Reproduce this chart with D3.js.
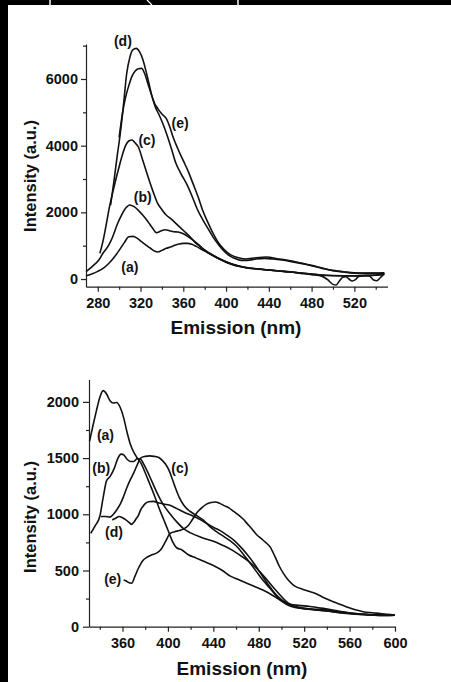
<!DOCTYPE html>
<html>
<head>
<meta charset="utf-8">
<script src="https://cdn.jsdelivr.net/npm/d3@7/dist/d3.min.js"></script>
<style>
  body { margin: 0; background: #fff; }
  svg { display: block; }
  text { font-family: "Liberation Sans", Arial, sans-serif; font-weight: bold; fill: #111; }
  .axis path, .axis line { stroke: #222; stroke-width: 1.2; }
  .axis text { font-size: 14.5px; fill: #111; }
  .curve { fill: none; stroke: #111; stroke-width: 1.6; }
</style>
</head>
<body>
<svg id="chart" width="451" height="682"></svg>
<script>
// ---- top panel data: [nm, intensity]
var topA = [[269,100],[275,160],[280,230],[285,320],[290,460],[295,640],[300,860],[305,1100],[309,1270],[313,1280],[317,1220],[321,1120],[325,1020],[329,930],[333,840],[336,810],[340,860],[344,920],[348,960],[352,1010],[356,1050],[360,1070],[364,1070],[368,1040],[372,980],[376,910],[380,840],[384,770],[388,710],[392,640],[396,580],[400,520],[405,460],[410,410],[415,370],[420,330],[430,300],[440,270],[450,240],[460,210],[470,170],[480,130],[490,80],[495,-20],[500,-160],[503,-180],[506,-60],[509,50],[512,70],[515,0],[518,-60],[521,-20],[524,80],[530,100],[534,90],[538,-30],[541,-50],[544,30],[548,170]];
var topB = [[269,220],[275,380],[281,570],[285,780],[290,1000],[294,1270],[298,1620],[302,1900],[306,2120],[310,2220],[314,2170],[318,2060],[322,1920],[327,1720],[331,1540],[335,1390],[339,1440],[343,1480],[347,1450],[351,1420],[355,1410],[359,1370],[364,1280],[369,1170],[374,1040],[378,920],[384,790],[390,670],[396,560],[402,470],[408,410],[414,370],[420,340],[430,300],[440,270],[450,240],[460,210],[470,180],[480,150],[490,120],[500,105],[510,100],[520,100],[530,110],[540,120],[548,150]];
var topC = [[282,770],[285,1150],[288,1650],[291,2170],[294,2600],[297,3000],[300,3370],[303,3720],[306,4000],[309,4140],[312,4170],[315,4080],[318,3960],[322,3570],[325,3270],[328,2970],[332,2600],[336,2270],[340,2080],[344,1920],[348,1820],[353,1670],[358,1520],[363,1370],[368,1210],[372,1070],[378,920],[384,770],[390,660],[396,570],[400,520],[410,400],[420,340],[430,300],[440,270],[450,240],[460,215],[470,180],[480,150],[490,115],[500,100],[510,95],[520,90],[530,100],[540,115],[548,140]];
var topD = [[292,2220],[295,2900],[298,3650],[301,4350],[304,5200],[307,6150],[310,6650],[313,6880],[316,6920],[319,6820],[322,6600],[325,6250],[328,5850],[331,5450],[334,5150],[337,4950],[341,4650],[345,4300],[349,3900],[353,3480],[358,3150],[363,2860],[368,2500],[373,2100],[378,1790],[383,1520],[388,1250],[393,1030],[398,840],[403,700],[408,620],[414,560],[420,560],[428,600],[436,620],[444,600],[452,570],[460,530],[470,470],[480,400],[490,320],[500,250],[510,210],[520,175],[530,170],[540,170],[548,180]];
var topE = [[300,4250],[303,4950],[306,5450],[309,5800],[312,6080],[315,6240],[318,6310],[321,6320],[324,6150],[327,5850],[330,5550],[333,5280],[336,5120],[340,4950],[344,4820],[347,4600],[350,4300],[355,3900],[360,3550],[365,3200],[369,2870],[374,2450],[378,2070],[383,1700],[388,1360],[393,1080],[398,890],[404,730],[410,650],[418,600],[428,640],[438,660],[448,610],[460,550],[470,480],[480,410],[490,330],[500,260],[510,220],[520,185],[530,180],[540,180],[548,190]];

// ---- bottom panel data
var botA = [[331,1650],[334,1790],[337,1920],[340,2040],[343,2100],[346,2070],[349,2010],[352,1990],[355,1995],[358,1950],[361,1860],[364,1730],[367,1620],[370,1550],[373,1500],[376,1460],[380,1370],[384,1270],[388,1170],[392,1060],[396,960],[400,860],[404,760],[408,700],[412,685],[418,640],[425,610],[432,580],[440,545],[448,500],[455,450],[462,420],[470,385],[478,350],[485,320],[492,280],[499,235],[506,190],[512,170],[520,160],[530,155],[540,148],[550,135],[560,122],[570,112],[580,105],[590,104],[600,106]];
var botB = [[332,830],[336,900],[340,980],[343,1150],[346,1300],[349,1335],[353,1415],[356,1500],[359,1535],[361,1530],[364,1490],[367,1470],[370,1470],[373,1495],[376,1490],[379,1440],[382,1380],[386,1290],[390,1200],[394,1120],[398,1055],[403,990],[408,930],[414,870],[420,835],[428,800],[435,775],[440,760],[448,725],[455,690],[462,645],[470,590],[478,520],[485,445],[492,360],[499,280],[506,210],[512,178],[520,160],[530,150],[540,140],[550,128],[560,118],[570,110],[580,104],[590,100],[600,103]];
var botC = [[341,980],[345,980],[349,975],[352,1000],[355,1040],[358,1090],[361,1160],[364,1240],[367,1310],[370,1370],[373,1440],[376,1500],[380,1515],[384,1520],[388,1515],[392,1505],[395,1480],[398,1445],[401,1390],[404,1310],[407,1225],[410,1150],[414,1080],[419,1030],[425,990],[431,950],[437,890],[442,850],[448,810],[454,770],[460,720],[466,650],[472,570],[478,490],[484,410],[490,340],[496,270],[502,220],[508,200],[515,190],[525,180],[535,165],[545,148],[555,130],[565,118],[575,110],[585,106],[600,104]];
var botD = [[351,950],[354,965],[357,980],[360,970],[363,950],[366,925],[368,910],[370,930],[372,960],[374,990],[376,1040],[378,1070],[380,1095],[383,1112],[387,1115],[392,1100],[397,1090],[401,1082],[405,1065],[410,1040],[416,1010],[422,985],[428,955],[434,920],[440,885],[446,855],[452,815],[458,770],[464,710],[470,640],[476,560],[482,470],[488,380],[494,300],[500,240],[506,200],[512,180],[520,165],[530,150],[540,140],[550,125],[560,115],[570,108],[580,103],[590,100],[600,102]];
var botE = [[361,415],[363,408],[365,395],[368,386],[371,450],[374,520],[378,590],[382,620],[386,640],[390,655],[394,690],[398,760],[402,830],[406,845],[410,855],[414,870],[418,900],[422,960],[426,1020],[430,1060],[434,1090],[438,1105],[442,1110],[446,1095],[450,1075],[454,1055],[458,1025],[462,995],[466,960],[470,915],[474,870],[478,820],[482,785],[486,750],[490,710],[494,630],[498,540],[502,470],[506,415],[510,375],[514,350],[518,335],[524,315],[530,295],[536,265],[542,237],[550,205],[557,178],[565,150],[572,133],[580,124],[587,118],[594,110],[600,104]];

var topXTicks = [280, 320, 360, 400, 440, 480, 520];
var topXMinor = [300, 340, 380, 420, 460, 500, 540];
var topYTicks = [0, 2000, 4000, 6000];
var topYMinor = [1000, 3000, 5000, 7000];
var botXTicks = [360, 400, 440, 480, 520, 560, 600];
var botXMinor = [340, 380, 420, 460, 500, 540, 580];
var botYTicks = [0, 500, 1000, 1500, 2000];
var botYMinor = [250, 750, 1250, 1750];

// curve tags: [text, nm, intensity] of the text baseline centre
var topLabels = [["(a)", 310, 210], ["(b)", 322, 2310], ["(c)", 326, 4020], ["(d)", 303.5, 6990], ["(e)", 357, 4530]];
var botLabels = [["(a)", 345, 1660], ["(b)", 341.3, 1370], ["(c)", 410.5, 1365], ["(d)", 352.5, 800], ["(e)", 351.4, 380]];

var svg = d3.select("#chart");

// scanned-page border
svg.append("rect").attr("x", 0).attr("y", 0).attr("width", 451).attr("height", 5).attr("fill", "#000");
svg.append("rect").attr("x", 0).attr("y", 0).attr("width", 8).attr("height", 682).attr("fill", "#000");
svg.append("line").attr("x1", 50).attr("y1", 0).attr("x2", 50).attr("y2", 5).attr("stroke", "#fff").attr("stroke-width", 1.5);
svg.append("line").attr("x1", 238).attr("y1", 0).attr("x2", 238).attr("y2", 5).attr("stroke", "#fff").attr("stroke-width", 1.5);
svg.append("line").attr("x1", 147).attr("y1", 0).attr("x2", 152).attr("y2", 5).attr("stroke", "#fff").attr("stroke-width", 1.2);

function panel(cfg) {
    var x = d3.scaleLinear().domain(cfg.xDomain).range(cfg.xRange);
    var y = d3.scaleLinear().domain(cfg.yDomain).range(cfg.yRange);
    var g = svg.append("g");

    // minor ticks
    g.append("g").attr("class", "axis")
        .attr("transform", "translate(0," + cfg.yRange[0] + ")")
        .call(d3.axisBottom(x).tickValues(cfg.xMinor).tickSize(3).tickFormat(""))
        .select(".domain").remove();
    g.append("g").attr("class", "axis")
        .attr("transform", "translate(" + cfg.xRange[0] + ",0)")
        .call(d3.axisLeft(y).tickValues(cfg.yMinor).tickSize(3).tickFormat(""))
        .select(".domain").remove();

    g.append("g").attr("class", "axis")
        .attr("transform", "translate(0," + cfg.yRange[0] + ")")
        .call(d3.axisBottom(x).tickValues(cfg.xTicks).tickSize(5).tickSizeOuter(0)
            .tickPadding(cfg.xPad).tickFormat(d3.format("d")));
    g.append("g").attr("class", "axis")
        .attr("transform", "translate(" + cfg.xRange[0] + ",0)")
        .call(d3.axisLeft(y).tickValues(cfg.yTicks).tickSize(cfg.yTick).tickSizeOuter(0)
            .tickPadding(cfg.yPad).tickFormat(d3.format("d")));

    var line = d3.line()
        .x(function(d) { return x(d[0]); })
        .y(function(d) { return y(d[1]); })
        .curve(d3.curveMonotoneX);

    g.selectAll(".curve").data(cfg.series).enter().append("path")
        .attr("class", "curve")
        .attr("d", line);

    g.selectAll(".lbl").data(cfg.labels).enter().append("text")
        .attr("class", "lbl")
        .attr("x", function(d) { return x(d[1]); })
        .attr("y", function(d) { return y(d[2]); })
        .attr("text-anchor", "middle")
        .style("font-size", "14px")
        .text(function(d) { return d[0]; });

    g.append("text")
        .attr("x", cfg.xTitle[0]).attr("y", cfg.xTitle[1])
        .attr("text-anchor", "middle")
        .style("font-size", "19px")
        .text("Emission (nm)");
    g.append("text")
        .attr("transform", "translate(" + cfg.yTitle[0] + "," + cfg.yTitle[1] + ") rotate(-90)")
        .attr("text-anchor", "middle")
        .style("font-size", "16.5px")
        .text("Intensity (a.u.)");
}

panel({
    xDomain: [269, 551], xRange: [86, 387.5],
    yDomain: [-230, 7050], yRange: [286.7, 44],
    xTicks: topXTicks, xMinor: topXMinor, yTicks: topYTicks, yMinor: topYMinor,
    yTick: 5, yPad: 3, xPad: 6,
    series: [topA, topB, topC, topD, topE],
    labels: topLabels,
    xTitle: [236, 334], yTitle: [36, 176]
});

panel({
    xDomain: [330.5, 600], xRange: [89, 395],
    yDomain: [0, 2200], yRange: [626.7, 379.4],
    xTicks: botXTicks, xMinor: botXMinor, yTicks: botYTicks, yMinor: botYMinor,
    yTick: 6, yPad: 4, xPad: 6,
    series: [botA, botB, botC, botD, botE],
    labels: botLabels,
    xTitle: [242, 675], yTitle: [36, 517]
});
</script>
</body>
</html>
